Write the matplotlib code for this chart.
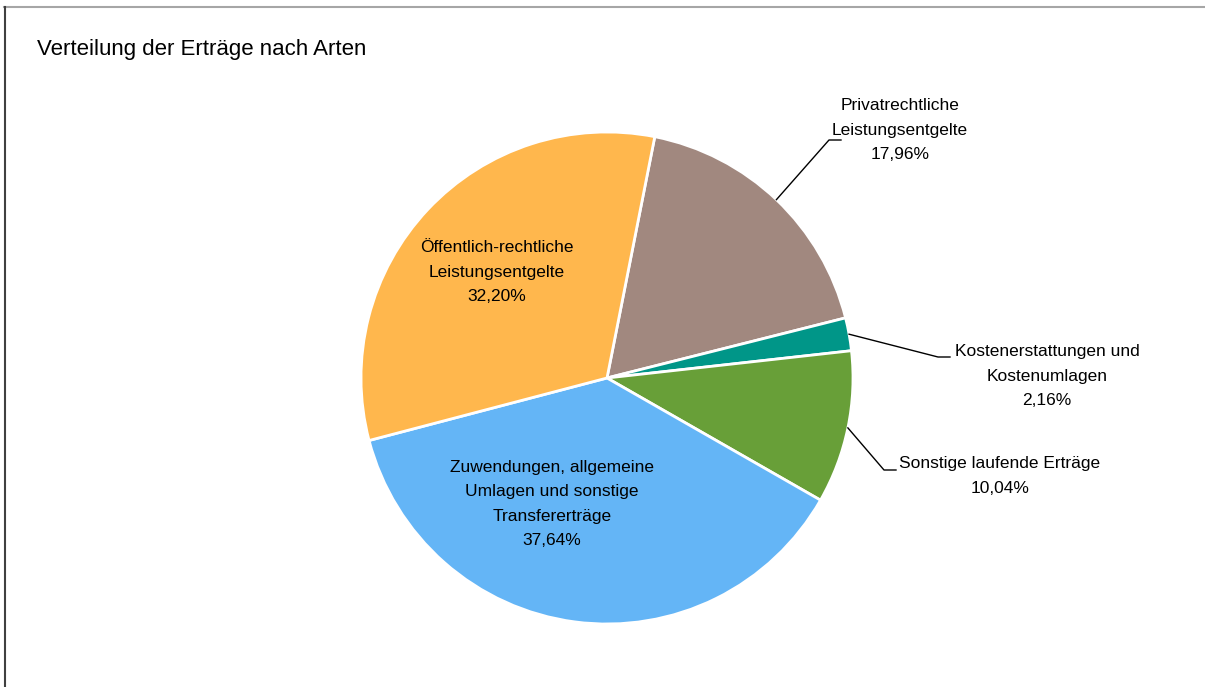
import numpy as np
import matplotlib
matplotlib.use('Agg')
import matplotlib.pyplot as plt
from matplotlib.lines import Line2D

plt.rcParams['font.family'] = ['Liberation Sans', 'DejaVu Sans']

#%% data
labels = ['Privatrechtliche\nLeistungsentgelte',
          'Kostenerstattungen und\nKostenumlagen',
          'Sonstige laufende Erträge',
          'Zuwendungen, allgemeine\nUmlagen und sonstige\nTransfererträge',
          'Öffentlich-rechtliche\nLeistungsentgelte']
shares = [17.96, 2.16, 10.04, 37.64, 32.20]
colors = ['#A1887F', '#009688', '#689F38', '#64B5F6', '#FFB74D']
title = 'Verteilung der Erträge nach Arten'

#%% figure (axes in pixel units, y up)
W, H = 1205, 687
fig = plt.figure(figsize=(W/100, H/100), dpi=100)
ax = fig.add_axes([0, 0, 1, 1])

cx, cy, r = 607, H-378, 246
start = 90 - 11.2  # first slice starts slightly right of 12 o'clock

ax.pie(shares, colors=colors, startangle=start, counterclock=False,
       center=(cx, cy), radius=r, frame=True,
       wedgeprops=dict(edgecolor='white', linewidth=2))
ax.set_xlim(0, W)
ax.set_ylim(0, H)
ax.axis('off')

pct = [('%.2f%%' % s).replace('.', ',') for s in shares]
fs = 12.5
ls = 1.78

# mid angles for leader lines
cum = np.cumsum([0] + shares)
mids = [start - 3.6*(cum[i] + shares[i]/2) for i in range(len(shares))]

def edge(i):
    a = np.deg2rad(mids[i])
    return cx + r*np.cos(a), cy + r*np.sin(a)

# outside labels: (text center x, text center y, elbow x, elbow y)
outside = {0: (900, H-130, 829, H-140),
           1: (1047, H-376, 938, H-357),
           2: (1000, H-476, 884, H-470)}
for i, (tx, ty, ex, ey) in outside.items():
    x0, y0 = edge(i)
    ax.plot([x0, ex, ex+12], [y0, ey, ey], color='black', lw=1)
    ax.text(tx, ty, labels[i] + '\n' + pct[i], ha='center', va='center',
            fontsize=fs, linespacing=ls)

# inside labels
ax.text(497, H-272, labels[4] + '\n' + pct[4], ha='center', va='center',
        fontsize=fs, linespacing=ls)
ax.text(552, H-504, labels[3] + '\n' + pct[3], ha='center', va='center',
        fontsize=fs, linespacing=ls)

# title and frame
fig.text(37/W, 1-55/H, title, fontsize=16, ha='left', va='baseline')
fig.add_artist(Line2D([4/W, 1], [1-6.5/H, 1-6.5/H], color='#a6a6a6', lw=1.5))
fig.add_artist(Line2D([4.5/W, 4.5/W], [0, 1-6.5/H], color='#404040', lw=1.5))

plt.savefig('out.png', dpi=100)
